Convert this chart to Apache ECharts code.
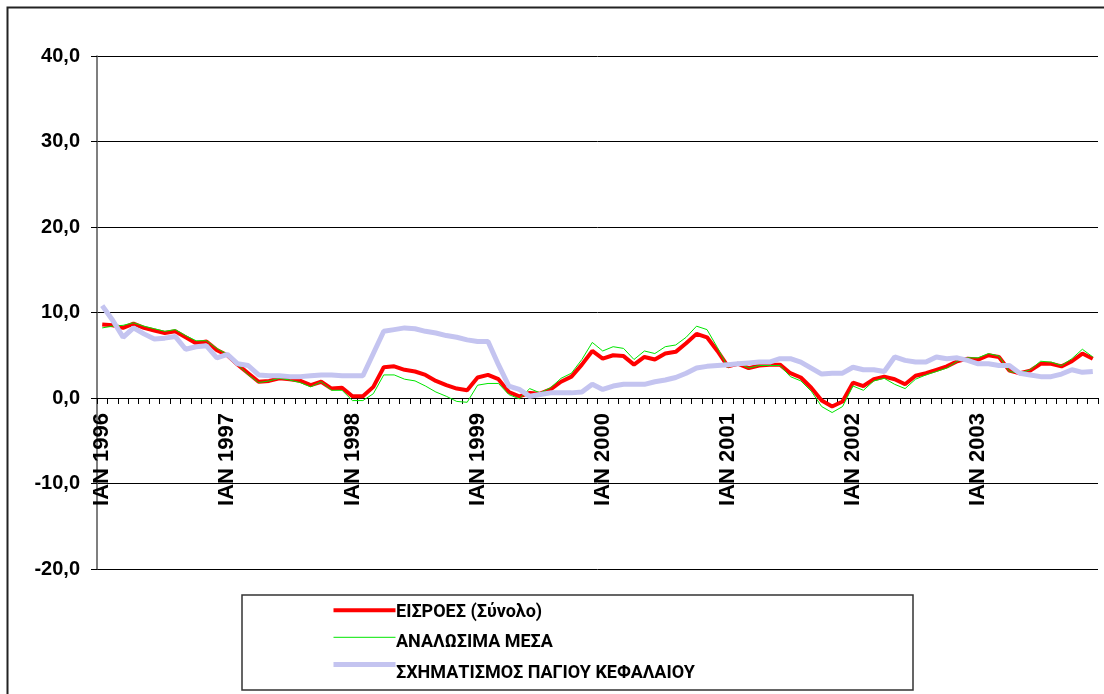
<!DOCTYPE html>
<html>
<head>
<meta charset="utf-8">
<script src="https://cdn.jsdelivr.net/npm/echarts@6/dist/echarts.min.js"></script>
<style>
  html, body { margin: 0; padding: 0; background: #fff; }
  #chart { width: 1104px; height: 694px; }
</style>
</head>
<body>
<div id="chart"></div>
<script>
var years = [1996, 1997, 1998, 1999, 2000, 2001, 2002, 2003];
var months = ['ΙΑΝ', 'ΦΕΒ', 'ΜΑΡ', 'ΑΠΡ', 'ΜΑΪ', 'ΙΟΥΝ', 'ΙΟΥΛ', 'ΑΥΓ', 'ΣΕΠ', 'ΟΚΤ', 'ΝΟΕ', 'ΔΕΚ'];
var yTicks = [-20, -10, 0, 10, 20, 30, 40];
var seriesNames = ['ΕΙΣΡΟΕΣ (Σύνολο)', 'ΑΝΑΛΩΣΙΜΑ ΜΕΣΑ', 'ΣΧΗΜΑΤΙΣΜΟΣ ΠΑΓΙΟΥ ΚΕΦΑΛΑΙΟΥ'];

// monthly values, Jan 1996 - Dec 2003
var eisroes = [
    8.6, 8.5, 8.2, 8.7, 8.2, 7.9, 7.6, 7.8, 7.1, 6.4, 6.6, 5.6,
    5.0, 3.9, 2.9, 1.9, 2.0, 2.3, 2.2, 2.0, 1.5, 1.9, 1.1, 1.2,
    0.2, 0.2, 1.3, 3.6, 3.7, 3.3, 3.1, 2.7, 2.0, 1.5, 1.1, 0.9,
    2.4, 2.7, 2.2, 0.7, 0.2, 0.6, 0.5, 1.0, 1.9, 2.5, 3.9, 5.5,
    4.6, 5.0, 4.9, 3.9, 4.8, 4.5, 5.2, 5.4, 6.4, 7.5, 7.1, 5.5,
    3.7, 4.0, 3.5, 3.8, 3.9, 3.9, 2.9, 2.4, 1.2, -0.3, -1.0, -0.4,
    1.8, 1.4, 2.2, 2.5, 2.2, 1.6, 2.6, 2.9, 3.3, 3.7, 4.3, 4.6,
    4.5, 5.0, 4.8, 3.2, 2.9, 3.2, 4.0, 4.0, 3.7, 4.3, 5.2, 4.6
];
var analosima = [
    8.2, 8.4, 8.5, 8.8, 8.4, 8.1, 7.8, 8.0, 7.3, 6.7, 6.7, 5.8,
    5.1, 3.9, 2.7, 1.8, 2.0, 2.3, 2.1, 1.8, 1.3, 1.9, 0.9, 0.9,
    -0.3, -0.3, 0.5, 2.7, 2.7, 2.2, 2.0, 1.4, 0.7, 0.2, -0.4, -0.5,
    1.5, 1.7, 1.7, 0.4, -0.1, 1.1, 0.6, 1.2, 2.3, 2.9, 4.5, 6.5,
    5.5, 6.0, 5.8, 4.5, 5.5, 5.2, 6.0, 6.2, 7.1, 8.4, 8.0, 5.9,
    3.6, 4.1, 3.5, 3.8, 3.8, 3.8, 2.5, 2.0, 0.8, -1.0, -1.7, -1.0,
    1.4, 0.9, 2.0, 2.3, 1.6, 1.1, 2.2, 2.7, 3.1, 3.5, 4.3, 4.7,
    4.7, 5.2, 4.9, 3.1, 2.9, 3.3, 4.3, 4.2, 3.8, 4.6, 5.7, 4.8
];
var pagio = [
    10.8, 9.1, 7.1, 8.2, 7.5, 6.9, 7.0, 7.2, 5.7, 6.0, 6.1, 4.7,
    5.1, 4.0, 3.8, 2.7, 2.6, 2.6, 2.5, 2.5, 2.6, 2.7, 2.7, 2.6,
    2.6, 2.6, 5.2, 7.8, 8.0, 8.2, 8.1, 7.8, 7.6, 7.3, 7.1, 6.8,
    6.6, 6.6, 3.9, 1.4, 1.0, 0.2, 0.4, 0.6, 0.6, 0.6, 0.7, 1.6,
    1.0, 1.4, 1.6, 1.6, 1.6, 1.9, 2.1, 2.4, 2.9, 3.5, 3.7, 3.8,
    3.9, 4.0, 4.1, 4.2, 4.2, 4.6, 4.6, 4.2, 3.5, 2.8, 2.9, 2.9,
    3.6, 3.3, 3.3, 3.1, 4.8, 4.4, 4.2, 4.2, 4.8, 4.6, 4.7, 4.4,
    4.0, 4.0, 3.8, 3.8, 2.9, 2.7, 2.5, 2.5, 2.8, 3.3, 3.0, 3.1
];

var categories = [];
years.forEach(function (y) {
    months.forEach(function (m) {
        categories.push(m + ' ' + y);
    });
});

var dom = document.getElementById('chart');
var myChart = echarts.init(dom, null, { renderer: 'canvas' });

var fontFamily = '"Liberation Sans", Arial, sans-serif';
// Greek in Liberation Sans does not come out bold here, Roboto does
var legendFont = 'bold 18px Roboto, "Noto Sans", sans-serif';

// plot area: y = 40 at 56px, y = -20 at 569px -> zero line 171px above the bottom
var gridTop = 56, gridBottom = 125;
var zeroOffset = -(694 - gridBottom - gridTop) * (0 - yTicks[0]) / (yTicks[yTicks.length - 1] - yTicks[0]);

// legend rows: icon from 331 to 393, text starts at 396
var legendTop = 603, legendRow = 30.7, legendItemH = 18;

var graphics = [
    {
        type: 'rect',
        shape: { x: 7.5, y: 7.5, width: 1120, height: 720 },
        style: { fill: 'none', stroke: '#222', lineWidth: 2 },
        silent: true
    },
    {
        type: 'rect',
        shape: { x: 242, y: 595, width: 671, height: 95 },
        style: { fill: 'none', stroke: '#333', lineWidth: 1.5 },
        silent: true
    }
];
seriesNames.forEach(function (name, i) {
    graphics.push({
        type: 'text',
        left: 396,
        top: legendTop + i * legendRow,
        silent: true,
        style: {
            text: name,
            fill: '#000',
            font: legendFont,
            lineHeight: legendItemH,
            verticalAlign: 'top'
        }
    });
});

var option = {
    animation: false,
    backgroundColor: '#fff',
    graphic: graphics,
    grid: {
        left: 97,
        right: 6,
        top: gridTop,
        bottom: gridBottom,
        containLabel: false
    },
    legend: {
        orient: 'vertical',
        left: 331,
        top: legendTop,
        padding: 0,
        itemWidth: 62,
        itemHeight: legendItemH,
        itemGap: legendRow - legendItemH,
        itemTextGap: 0,
        itemStyle: { opacity: 0, borderWidth: 0 },
        data: [
            { name: seriesNames[0], lineStyle: { width: 4 } },
            { name: seriesNames[1], lineStyle: { width: 1 } },
            { name: seriesNames[2], lineStyle: { width: 5 } }
        ],
        formatter: function () {
            return '';
        },
        textStyle: { fontSize: 18, lineHeight: 18 }
    },
    xAxis: {
        type: 'category',
        data: categories,
        boundaryGap: true,
        position: 'bottom',
        offset: zeroOffset,
        axisLine: { onZero: false, lineStyle: { color: '#000', width: 1 } },
        axisTick: { show: true, interval: 0, length: 6, lineStyle: { color: '#000' } },
        axisLabel: {
            interval: 11,
            rotate: 90,
            margin: 15,
            color: '#000',
            fontFamily: fontFamily,
            fontWeight: 'bold',
            fontSize: 22
        },
        splitLine: { show: false }
    },
    yAxis: {
        type: 'value',
        min: yTicks[0],
        max: yTicks[yTicks.length - 1],
        interval: 10,
        axisLine: { show: true, onZero: false, lineStyle: { color: '#555', width: 1.5 } },
        axisTick: { show: true, length: 6, lineStyle: { color: '#000' } },
        axisLabel: {
            margin: 17,
            color: '#000',
            fontFamily: fontFamily,
            fontWeight: 'bold',
            fontSize: 20,
            formatter: function (v) {
                return v.toFixed(1).replace('.', ',');
            }
        },
        splitLine: { show: true, lineStyle: { color: '#000', width: 1 } }
    },
    series: [
        {
            name: seriesNames[0],
            type: 'line',
            data: eisroes,
            symbol: 'none',
            lineStyle: { color: '#ff0000', width: 4 },
            itemStyle: { color: '#ff0000' }
        },
        {
            name: seriesNames[1],
            type: 'line',
            data: analosima,
            symbol: 'none',
            lineStyle: { color: '#00e600', width: 1 },
            itemStyle: { color: '#00e600' }
        },
        {
            name: seriesNames[2],
            type: 'line',
            data: pagio,
            symbol: 'none',
            lineStyle: { color: '#c4c4f0', width: 5 },
            itemStyle: { color: '#c4c4f0' }
        }
    ]
};

myChart.setOption(option);
window.addEventListener('resize', myChart.resize);
</script>
</body>
</html>
